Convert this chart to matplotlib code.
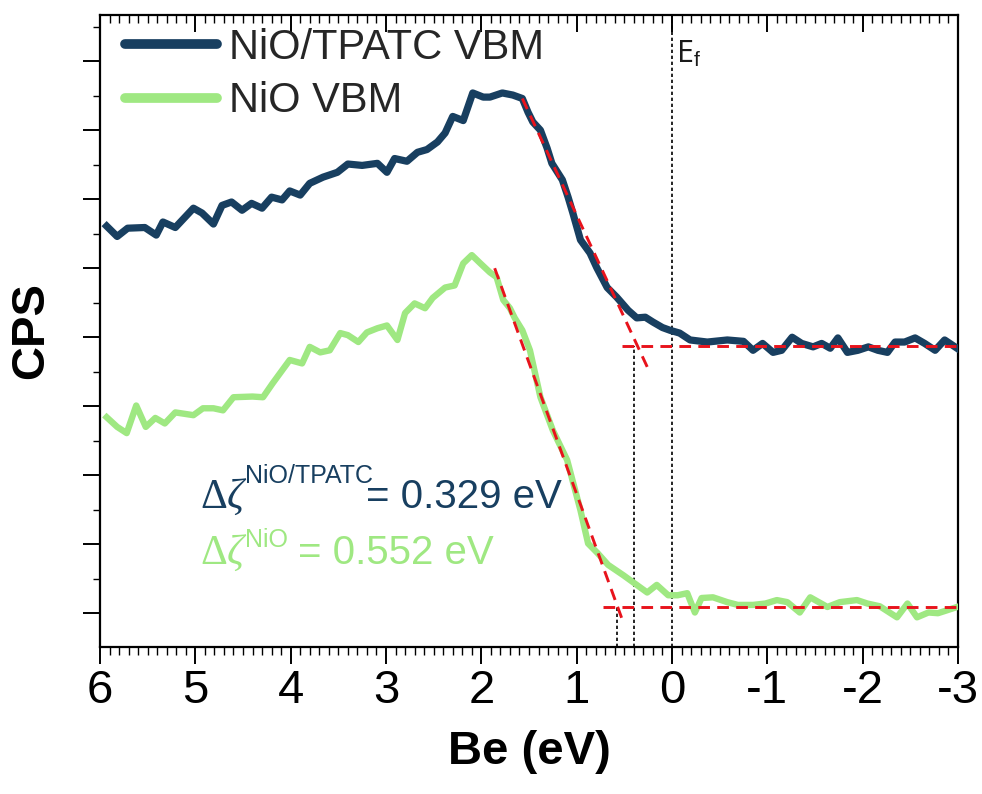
import numpy as np
import matplotlib
matplotlib.use("Agg")
import matplotlib.pyplot as plt
from matplotlib.ticker import MultipleLocator, NullFormatter

plt.rcParams["font.family"] = ["Liberation Sans", "DejaVu Sans"]
plt.rcParams["mathtext.fontset"] = "custom"
plt.rcParams["mathtext.rm"] = "Liberation Serif"
plt.rcParams["mathtext.it"] = "Liberation Serif:italic"
plt.rcParams["mathtext.sf"] = "Liberation Sans"

# NiO/TPATC VBM spectrum (binding energy in eV, counts in arbitrary units)
be_tpatc = [5.93, 5.82, 5.71, 5.53, 5.41, 5.34, 5.21, 5.02, 4.93, 4.81, 4.72, 4.62,
            4.51, 4.41, 4.30, 4.20, 4.09, 4.01, 3.90, 3.80, 3.66, 3.51, 3.40, 3.25,
            3.09, 2.99, 2.91, 2.78, 2.67, 2.57, 2.46, 2.38, 2.30, 2.19, 2.09, 1.98,
            1.91, 1.78, 1.67, 1.57, 1.51, 1.46, 1.38, 1.31, 1.26, 1.15, 1.09, 1.04,
            0.96, 0.86, 0.79, 0.68, 0.58, 0.46, 0.37, 0.28, 0.20, 0.10, 0.02, -0.08,
            -0.19, -0.37, -0.58, -0.75, -0.85, -0.95, -1.06, -1.15, -1.26, -1.36,
            -1.48, -1.57, -1.66, -1.74, -1.84, -1.95, -2.06, -2.16, -2.26, -2.34,
            -2.44, -2.55, -2.65, -2.76, -2.86, -2.99]
cps_tpatc = [5.61, 5.46, 5.58, 5.59, 5.48, 5.67, 5.59, 5.87, 5.80, 5.64, 5.91, 5.96,
             5.84, 5.94, 5.87, 6.03, 5.99, 6.12, 6.06, 6.23, 6.32, 6.39, 6.51, 6.49,
             6.52, 6.39, 6.59, 6.55, 6.68, 6.72, 6.83, 6.96, 7.20, 7.14, 7.54, 7.48,
             7.48, 7.54, 7.51, 7.46, 7.26, 7.12, 7.00, 6.74, 6.52, 6.28, 6.03, 5.80,
             5.41, 5.22, 5.01, 4.72, 4.58, 4.39, 4.28, 4.29, 4.22, 4.14, 4.10, 4.06,
             3.96, 3.93, 3.96, 3.94, 3.81, 3.91, 3.78, 3.81, 4.00, 3.91, 3.86, 3.91,
             3.84, 3.99, 3.78, 3.81, 3.86, 3.81, 3.78, 3.93, 3.93, 3.99, 3.91, 3.81,
             3.96, 3.84]

# NiO VBM spectrum
be_nio = [5.93, 5.82, 5.72, 5.62, 5.52, 5.42, 5.32, 5.21, 5.02, 4.92, 4.81, 4.71,
          4.60, 4.40, 4.29, 4.19, 4.01, 3.88, 3.80, 3.69, 3.59, 3.48, 3.40, 3.29,
          3.20, 3.09, 2.99, 2.88, 2.80, 2.70, 2.59, 2.51, 2.38, 2.28, 2.19, 2.10,
          2.01, 1.91, 1.84, 1.77, 1.70, 1.65, 1.57, 1.49, 1.38, 1.25, 1.10, 0.96,
          0.88, 0.78, 0.67, 0.51, 0.39, 0.26, 0.16, 0.04, -0.06, -0.16, -0.24,
          -0.31, -0.43, -0.58, -0.69, -0.85, -0.98, -1.10, -1.21, -1.34, -1.45,
          -1.63, -1.76, -1.94, -2.05, -2.18, -2.36, -2.47, -2.57, -2.69, -2.79,
          -2.88, -2.99]
cps_nio = [2.84, 2.70, 2.61, 3.01, 2.70, 2.83, 2.75, 2.91, 2.87, 2.97, 2.97, 2.94,
           3.13, 3.14, 3.13, 3.33, 3.67, 3.62, 3.86, 3.78, 3.81, 4.06, 4.03, 3.93,
           4.07, 4.13, 4.17, 3.96, 4.35, 4.49, 4.42, 4.57, 4.72, 4.75, 5.07, 5.19,
           5.07, 4.94, 4.87, 4.54, 4.42, 4.28, 4.10, 3.81, 3.13, 2.65, 2.22, 1.49,
           1.01, 0.87, 0.70, 0.55, 0.43, 0.30, 0.41, 0.26, 0.26, 0.29, 0.01, 0.22,
           0.23, 0.16, 0.12, 0.12, 0.14, 0.19, 0.16, 0.01, 0.23, 0.09, 0.16, 0.19,
           0.14, 0.10, -0.06, 0.14, -0.06, 0.01, 0.00, 0.04, 0.09]

# linear fits (edge and background)
fit_edge_tpatc_x = [1.57, 0.26]
fit_edge_tpatc_y = [7.46, 3.57]
fit_base_tpatc_x = [0.52, -2.99]
fit_base_tpatc_y = [3.87, 3.87]
fit_edge_nio_x = [1.86, 0.52]
fit_edge_nio_y = [5.00, -0.10]
fit_base_nio_x = [0.72, -2.99]
fit_base_nio_y = [0.09, 0.09]

vbm_nio_x = 0.58
vbm_tpatc_x = 0.40
ef_x = 0.0

navy = "#183f60"
green = "#9fe882"
red = "#e8131c"

fig = plt.figure(figsize=(9.82, 7.94), dpi=100)
ax = fig.add_axes([100 / 982, (794 - 647) / 794, 858 / 982, 632 / 794])

ax.plot(be_tpatc, cps_tpatc, color=navy, lw=5.2, solid_joinstyle="round",
        label="NiO/TPATC VBM", zorder=3)
ax.plot(be_nio, cps_nio, color=green, lw=4.6, solid_joinstyle="round",
        label="NiO VBM", zorder=3)

dash = dict(color=red, lw=2.1, dashes=(4, 2.5), zorder=4)
ax.plot(fit_edge_tpatc_x, fit_edge_tpatc_y, **dash)
ax.plot(fit_base_tpatc_x, fit_base_tpatc_y, **dash)
ax.plot(fit_edge_nio_x, fit_edge_nio_y, **dash)
ax.plot(fit_base_nio_x, fit_base_nio_y, **dash)

ylo, yhi = -0.49, 8.67
dot = dict(color="black", lw=1.2, dashes=(2, 1.6), zorder=2)
ax.plot([ef_x, ef_x], [ylo, yhi], **dot)
ax.plot([vbm_tpatc_x, vbm_tpatc_x], [ylo, fit_base_tpatc_y[0]], **dot)
ax.plot([vbm_nio_x, vbm_nio_x], [ylo, fit_base_nio_y[0]], **dot)

ax.set_xlim(6, -3)
ax.set_ylim(ylo, yhi)

ax.xaxis.set_major_locator(MultipleLocator(1))
ax.xaxis.set_minor_locator(MultipleLocator(0.1))
ax.yaxis.set_major_locator(MultipleLocator(1))
ax.yaxis.set_minor_locator(MultipleLocator(0.5))
ax.yaxis.set_major_formatter(NullFormatter())
ax.set_xticks(range(-3, 7))
ax.set_xticklabels(["-3", "-2", "-1", "0", "1", "2", "3", "4", "5", "6"])

ax.tick_params(axis="x", which="major", direction="out", length=12, width=1.4,
               labelsize=34, pad=4, top=True)
ax.tick_params(axis="x", which="minor", direction="out", length=6, width=1.0, top=True)
ax.tick_params(axis="y", which="major", direction="out", length=12, width=1.4)
ax.tick_params(axis="y", which="minor", direction="out", length=5, width=1.0)
for t in ax.xaxis.get_major_ticks():
    t.tick2line.set_marker(matplotlib.lines.TICKDOWN)
for t in ax.xaxis.get_minor_ticks():
    t.tick2line.set_marker(matplotlib.lines.TICKDOWN)
for s in ax.spines.values():
    s.set_linewidth(1.6)

ax.set_xlabel("Be (eV)", fontsize=34, fontweight="bold", labelpad=12)
ax.set_ylabel("CPS", fontsize=34, fontweight="bold", labelpad=18)

leg = ax.legend(loc="upper left", frameon=False, fontsize=30, handlelength=2.2,
                handletextpad=0.3, labelspacing=0.32, borderaxespad=0.0,
                bbox_to_anchor=(0.01, 1.006))
for h in leg.get_lines():
    h.set_linewidth(7)
    h.set_solid_capstyle("round")
for txt in leg.get_texts():
    txt.set_color("#262626")

ax.text(ef_x - 0.04, 7.98, r"E$_\mathsf{f}$", fontsize=22, family="Open Sans",
        color="#1a1a1a", va="baseline")

# band offset annotations: symbol, superscript and value as separate pieces
ax.text(4.95, 1.52, r"$\Delta\zeta$", fontsize=30, color=navy, va="baseline")
ax.text(4.48, 1.88, "NiO/TPATC", fontsize=18, color=navy, va="baseline")
ax.text(3.21, 1.52, "= 0.329 eV", fontsize=29, color=navy, va="baseline")
ax.text(4.95, 0.72, r"$\Delta\zeta$", fontsize=30, color=green, va="baseline")
ax.text(4.48, 0.96, "NiO", fontsize=18, color=green, va="baseline")
ax.text(3.92, 0.72, "= 0.552 eV", fontsize=29, color=green, va="baseline")

fig.savefig("out.png", dpi=100)
